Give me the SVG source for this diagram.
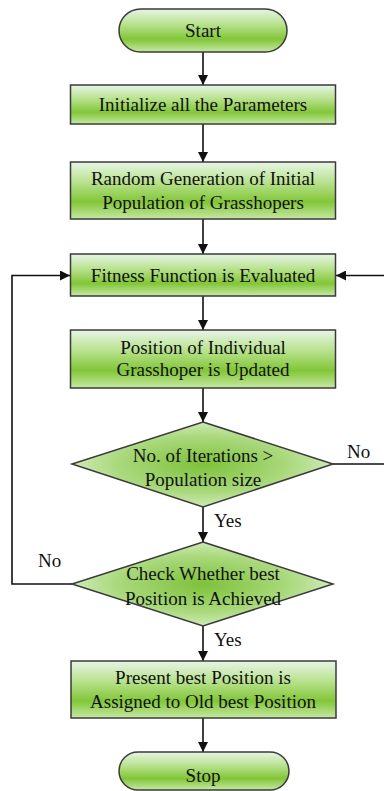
<svg xmlns="http://www.w3.org/2000/svg" width="384" height="791" viewBox="0 0 384 791">
<defs>
<linearGradient id="gBox" x1="0" y1="0" x2="0" y2="1">
<stop offset="0" stop-color="#e6f5e6"/>
<stop offset="0.35" stop-color="#b9e28f"/>
<stop offset="0.7" stop-color="#82c638"/>
<stop offset="1" stop-color="#c6e8a3"/>
</linearGradient>
<radialGradient id="gDia" cx="0.5" cy="0.5" r="0.55">
<stop offset="0" stop-color="#7ec13a"/>
<stop offset="0.6" stop-color="#aad97d"/>
<stop offset="1" stop-color="#d9f0c6"/>
</radialGradient>
<marker id="ah" viewBox="0 0 10 10" refX="10" refY="5" markerWidth="10" markerHeight="10" markerUnits="userSpaceOnUse" orient="auto">
<path d="M0,0 L10,5 L0,10 z" fill="#111"/>
</marker>
</defs>
<style>
.box{fill:url(#gBox);stroke:#3a3a3a;stroke-width:1.5}
.dia{fill:url(#gDia);stroke:#3a3a3a;stroke-width:1.5}
.t{font-size:19px;fill:#111;text-anchor:middle}
.lbl{font-size:19px;fill:#111}
.c{fill:none;stroke:#111;stroke-width:1.6;marker-end:url(#ah)}
.cl{fill:none;stroke:#111;stroke-width:1.6}
</style>
<rect width="384" height="791" fill="#fff"/>
<g font-family="Liberation Serif, Times New Roman, serif">
<g id="connectors">
<path class="c" d="M203,52 V85"/>
<path class="c" d="M203,124 V162"/>
<path class="c" d="M203,219 V254"/>
<path class="c" d="M203,296 V330"/>
<path class="c" d="M203,388 V422"/>
<path class="c" d="M203,507 V542"/>
<path class="c" d="M203,626 V661"/>
<path class="c" d="M203,718 V752"/>
<path class="c" d="M72,584 H12 V275.5 H70"/>
<path class="cl" d="M333,464 H384"/>
<path class="c" d="M384,275.5 H336"/>
<text class="lbl" x="347" y="458">No</text>
<text class="lbl" x="214" y="527">Yes</text>
<text class="lbl" x="38" y="567">No</text>
<text class="lbl" x="214" y="646">Yes</text>
</g>
<g id="start">
<rect class="box" x="119" y="9" width="168" height="43" rx="21.5"/>
<text class="t" x="203" y="37">Start</text>
</g>
<g id="init">
<rect class="box" x="70.5" y="85" width="265" height="39"/>
<text class="t" x="203" y="111">Initialize all the Parameters</text>
</g>
<g id="random">
<rect class="box" x="70.5" y="162" width="265" height="57"/>
<text class="t" x="203" y="185">Random Generation of Initial</text>
<text class="t" x="203" y="209">Population of Grasshopers</text>
</g>
<g id="fitness">
<rect class="box" x="70.5" y="254" width="265" height="42"/>
<text class="t" x="203" y="282">Fitness Function is Evaluated</text>
</g>
<g id="position">
<rect class="box" x="70.5" y="330" width="265" height="58"/>
<text class="t" x="203" y="354">Position of Individual</text>
<text class="t" x="203" y="376">Grasshoper is Updated</text>
</g>
<g id="iter">
<polygon class="dia" points="203,422 333,464 203,507 72,464"/>
<text class="t" x="203" y="462">No. of Iterations &gt;</text>
<text class="t" x="203" y="486">Population size</text>
</g>
<g id="check">
<polygon class="dia" points="203,542 333,584 203,626 72,584"/>
<text class="t" x="203" y="580">Check Whether best</text>
<text class="t" x="203" y="605">Position is Achieved</text>
</g>
<g id="present">
<rect class="box" x="71" y="661" width="265" height="57"/>
<text class="t" x="203" y="684">Present best Position is</text>
<text class="t" x="203" y="708">Assigned to Old best Position</text>
</g>
<g id="stop">
<rect class="box" x="119" y="752" width="170" height="38" rx="19"/>
<text class="t" x="203" y="782">Stop</text>
</g>
</g>
</svg>
